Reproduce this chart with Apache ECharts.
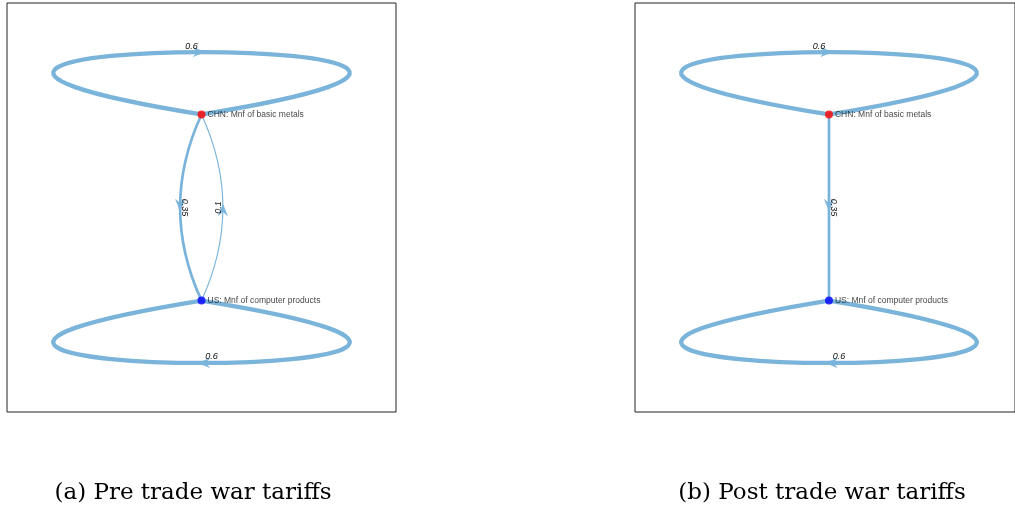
<!DOCTYPE html>
<html>
<head>
<meta charset="utf-8">
<script src="https://cdn.jsdelivr.net/npm/echarts@6/dist/echarts.min.js"></script>
<style>html,body{margin:0;padding:0;background:#fff;}#c{width:1015px;height:510px;}</style>
</head>
<body>
<div id="c"></div>
<script>
// ---- data ----
const nodeNames = ['CHN: Mnf of basic metals', 'US: Mnf of computer products'];
const nodeLayoutX = [0, 0];
const nodeLayoutY = [0.455, -0.455];
const preSource = [0, 1, 0, 1];
const preTarget = [0, 1, 1, 0];
const preWeight = [0.6, 0.6, 0.35, 0.1];
const postSource = [0, 1, 0];
const postTarget = [0, 1, 1];
const postWeight = [0.6, 0.6, 0.35];
const captions = ['(a) Pre trade war tariffs', '(b) Post trade war tariffs'];

// ---- styles ----
const EDGE_COLOR = '#7AB4DA';
const NODE_COLORS = ['#FF0000', '#0000FF'];
const LOOP_W = 2.64, LOOP_H = 0.407, CURV = 0.23;

function norm(v) { const l = Math.hypot(v[0], v[1]) || 1; return [v[0] / l, v[1] / l]; }

function arrowShape(m, d) {
  const L = 11, W = 4.5;
  const tip = [m[0] + d[0] * 3, m[1] + d[1] * 3];
  const p = [-d[1], d[0]];
  const back = [tip[0] - d[0] * L, tip[1] - d[1] * L];
  const notch = [tip[0] - d[0] * L * 0.65, tip[1] - d[1] * L * 0.65];
  return { type: 'polygon', shape: { points: [tip, [back[0] + p[0] * W, back[1] + p[1] * W], notch, [back[0] - p[0] * W, back[1] - p[1] * W]] }, style: { fill: EDGE_COLOR, stroke: EDGE_COLOR, lineWidth: 0.6 } };
}

function edgeRender(src, tgt) {
  return function (params, api) {
    const s = api.value(0), t = api.value(1), w = api.value(2);
    const lw = 0.5 + w * 6.3;
    const p0 = api.coord([nodeLayoutX[s], nodeLayoutY[s]]);
    const children = [];
    let m, d, lab, rot;
    if (s === t) {
      const sg = nodeLayoutY[s] > 0 ? 1 : -1;
      const c1 = api.coord([nodeLayoutX[s] - sg * LOOP_W, nodeLayoutY[s] + sg * LOOP_H]);
      const c2 = api.coord([nodeLayoutX[s] + sg * LOOP_W, nodeLayoutY[s] + sg * LOOP_H]);
      children.push({ type: 'bezierCurve', shape: { x1: p0[0], y1: p0[1], x2: p0[0], y2: p0[1], cpx1: c1[0], cpy1: c1[1], cpx2: c2[0], cpy2: c2[1] }, style: { stroke: EDGE_COLOR, lineWidth: lw, fill: 'none' } });
      m = [(2 * p0[0] + 3 * c1[0] + 3 * c2[0]) / 8, (2 * p0[1] + 3 * c1[1] + 3 * c2[1]) / 8];
      d = norm([c2[0] - c1[0], c2[1] - c1[1]]);
      lab = [m[0] - 10 * d[0], m[1] - 6];
      rot = 0;
    } else {
      const p2 = api.coord([nodeLayoutX[t], nodeLayoutY[t]]);
      let curved = false;
      for (let k = 0; k < src.length; k++) if (src[k] === t && tgt[k] === s) curved = true;
      const len = Math.hypot(p2[0] - p0[0], p2[1] - p0[1]);
      d = norm([p2[0] - p0[0], p2[1] - p0[1]]);
      const perp = [-d[1], d[0]];
      const k = curved ? CURV * len : 0;
      const q = [(p0[0] + p2[0]) / 2 + perp[0] * k, (p0[1] + p2[1]) / 2 + perp[1] * k];
      children.push({ type: 'bezierCurve', shape: { x1: p0[0], y1: p0[1], x2: p2[0], y2: p2[1], cpx1: q[0], cpy1: q[1] }, style: { stroke: EDGE_COLOR, lineWidth: lw, fill: 'none' } });
      m = [0.25 * p0[0] + 0.5 * q[0] + 0.25 * p2[0], 0.25 * p0[1] + 0.5 * q[1] + 0.25 * p2[1]];
      lab = [m[0] - perp[0] * 4.5, m[1] - perp[1] * 4.5];
      rot = -Math.atan2(d[1], d[0]);
    }
    children.push(arrowShape(m, d));
    children.push({ type: 'text', x: lab[0], y: lab[1], rotation: rot, z2: 5, style: { text: String(w), fontSize: 9, fontStyle: 'italic', fontFamily: 'Liberation Sans, Arial, sans-serif', fill: '#111', align: 'center', verticalAlign: 'middle' } });
    return { type: 'group', children: children };
  };
}

function edgeData(src, tgt, wt) { return src.map((s, i) => [s, tgt[i], wt[i]]); }
function nodeData() { return nodeNames.map((n, i) => ({ value: [nodeLayoutX[i], nodeLayoutY[i]], name: n, itemStyle: { color: NODE_COLORS[i] } })); }

const grids = [
  { left: 7, top: 3, width: 389, height: 409 },
  { left: 635, top: 3, right: -2, height: 409 }
].map(g => Object.assign({ show: true, borderColor: '#222', borderWidth: 1, backgroundColor: 'transparent' }, g));

const option = {
  animation: false,
  grid: grids,
  xAxis: [
    { gridIndex: 0, type: 'value', min: -1, max: 1, show: false },
    { gridIndex: 1, type: 'value', min: -1, max: 0.959, show: false }
  ],
  yAxis: [
    { gridIndex: 0, type: 'value', min: -1, max: 1, show: false },
    { gridIndex: 1, type: 'value', min: -1, max: 1, show: false }
  ],
  series: [
    { type: 'custom', xAxisIndex: 0, yAxisIndex: 0, clip: false, renderItem: edgeRender(preSource, preTarget), data: edgeData(preSource, preTarget, preWeight), encode: { x: 0, y: 1 }, z: 1 },
    { type: 'custom', xAxisIndex: 1, yAxisIndex: 1, clip: false, renderItem: edgeRender(postSource, postTarget), data: edgeData(postSource, postTarget, postWeight), encode: { x: 0, y: 1 }, z: 1 },
    ...[0, 1].map(gi => ({
      type: 'scatter', xAxisIndex: gi, yAxisIndex: gi, symbolSize: 8, z: 3,
      data: nodeData(),
      label: { show: true, position: 'right', distance: 2, formatter: p => p.name, fontSize: 8.5, color: '#111', fontFamily: 'Liberation Sans, Arial, sans-serif' }
    }))
  ],
  graphic: captions.map((c, i) => ({
    type: 'text', x: i === 0 ? 193 : 822, y: 493,
    style: { text: c, fontSize: 23, fontFamily: 'DejaVu Serif, serif', fill: '#000', align: 'center', verticalAlign: 'middle' }
  }))
};
const chart = echarts.init(document.getElementById('c'), null, { renderer: 'canvas' });
chart.setOption(option);
</script>
</body>
</html>
